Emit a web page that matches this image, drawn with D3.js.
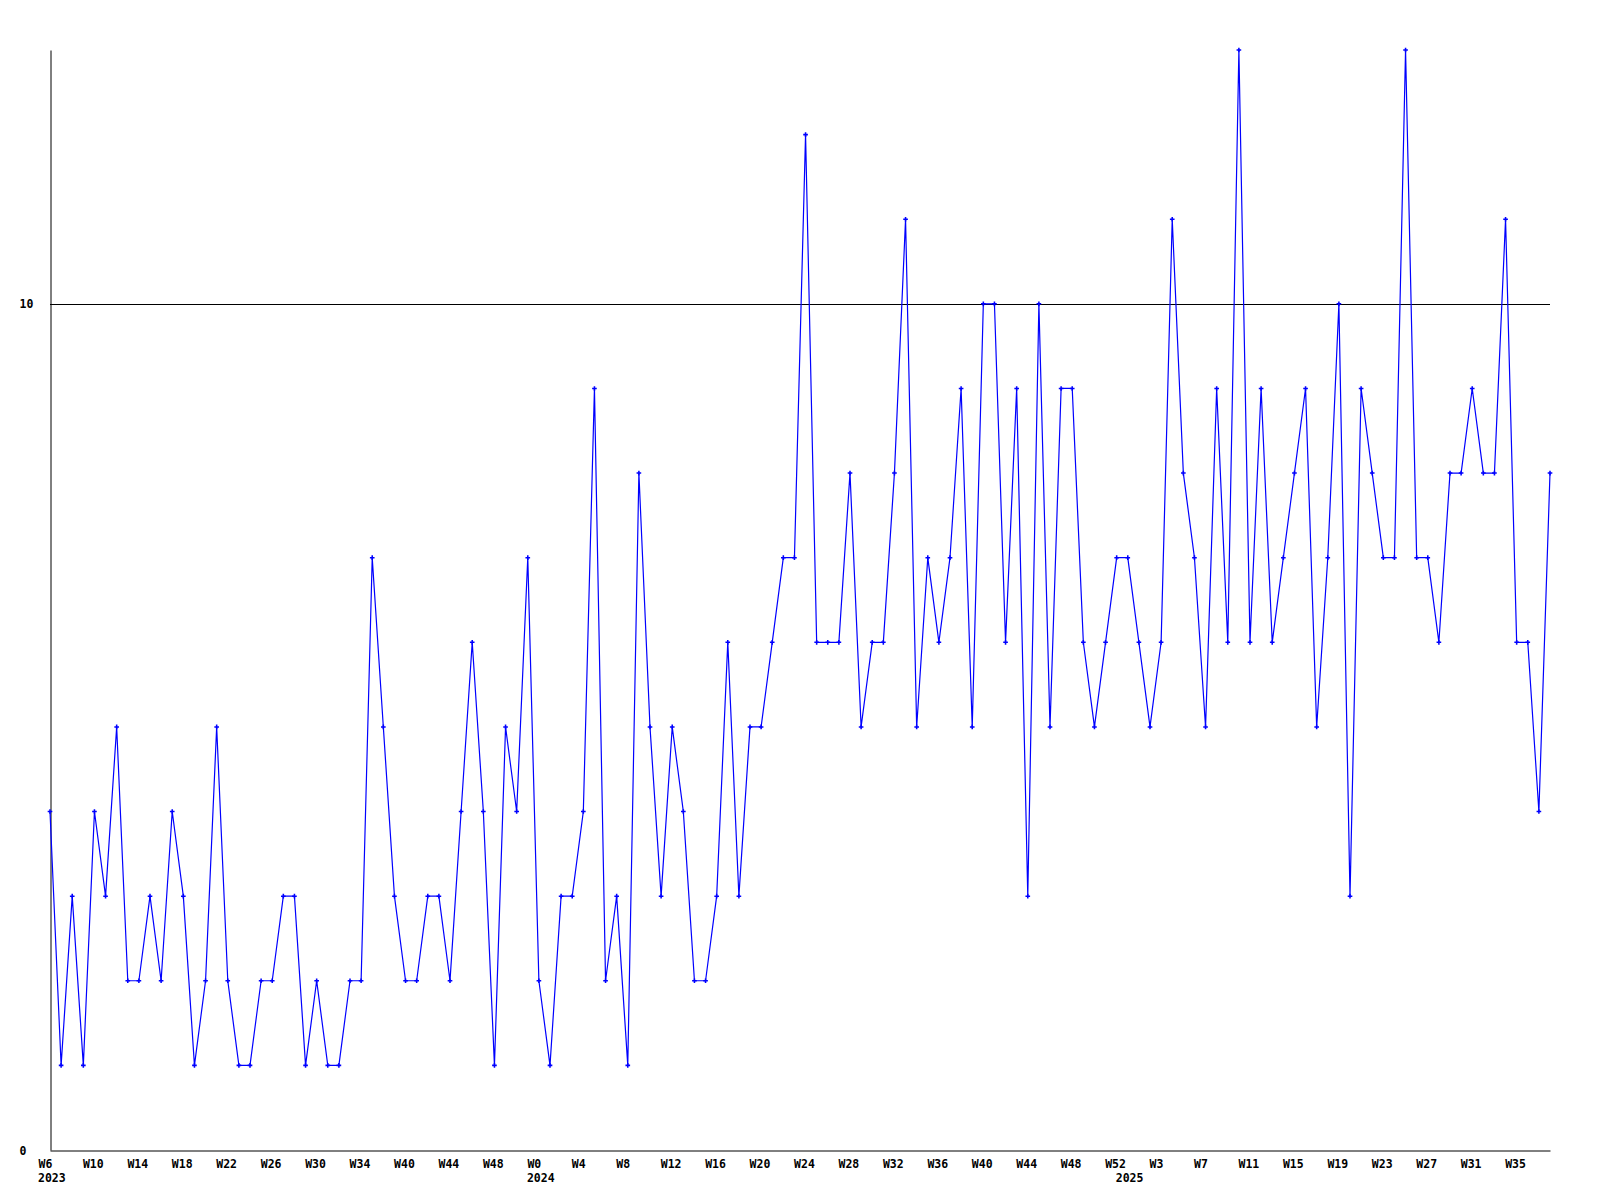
<!DOCTYPE html>
<html>
<head>
<meta charset="utf-8">
<script src="https://cdn.jsdelivr.net/npm/d3@7"></script>
<style>
  body { margin: 0; background: #fff; }
  text { font-family: "DejaVu Sans Mono", "Liberation Mono", monospace; font-weight: bold; font-size: 11.5px; fill: #000; }
</style>
</head>
<body>
<svg id="chart" width="1600" height="1200"></svg>
<script>
// weekly counts, one per week starting 2023 W6
const values = [
  4, 1, 3, 1, 4, 3, 5, 2, 2, 3, 2, 4, 3, 1, 2, 5, 2, 1, 1, 2,
  2, 3, 3, 1, 2, 1, 1, 2, 2, 7, 5, 3, 2, 2, 3, 3, 2, 4, 6, 4,
  1, 5, 4, 7, 2, 1, 3, 3, 4, 9, 2, 3, 1, 8, 5, 3, 5, 4, 2, 2,
  3, 6, 3, 5, 5, 6, 7, 7, 12, 6, 6, 6, 8, 5, 6, 6, 8, 11, 5, 7,
  6, 7, 9, 5, 10, 10, 6, 9, 3, 10, 5, 9, 9, 6, 5, 6, 7, 7, 6, 5,
  6, 11, 8, 7, 5, 9, 6, 13, 6, 9, 6, 7, 8, 9, 5, 7, 10, 3, 9, 8,
  7, 7, 13, 7, 7, 6, 8, 8, 9, 8, 8, 11, 6, 6, 4, 8
];

// one label every 4th week
const weekLabels = [
  "W6", "W10", "W14", "W18", "W22", "W26", "W30", "W34", "W40", "W44", "W48",
  "W0", "W4", "W8", "W12", "W16", "W20", "W24", "W28", "W32", "W36", "W40", "W44", "W48", "W52",
  "W3", "W7", "W11", "W15", "W19", "W23", "W27", "W31", "W35"
];
const yearLabels = ["2023", "2024", "2025"];
const yearStart = [0, 44, 97];   // index of first week of each year
const yTicks = [0, 10];

const margin = {top: 50, right: 50, bottom: 50, left: 50};
const W = 1600, H = 1200;

var svg = d3.select('#chart');
svg.append('rect').attr('width', W).attr('height', H).attr('fill', '#fff');

var x = d3.scaleLinear().domain([0, values.length - 1]).range([margin.left, W - margin.right]);
var y = d3.scaleLinear().domain([0, 13]).range([H - margin.bottom, margin.top]);

// horizontal rule at 10
svg.append('g').selectAll('line')
  .data(yTicks.filter(d => d > 0)).enter()
  .append('line')
  .attr('x1', x.range()[0]).attr('x2', x.range()[1])
  .attr('y1', d => Math.round(y(d)) + 0.5).attr('y2', d => Math.round(y(d)) + 0.5)
  .attr('stroke', '#000').attr('stroke-width', 1);

// y axis
var yAxis = svg.append('g')
  .attr('transform', 'translate(' + (margin.left + 0.5) + ',0)')
  .call(d3.axisLeft(y).tickValues(yTicks).tickSize(0).tickSizeOuter(0).tickFormat(d3.format('d')));
yAxis.select('.domain').attr('stroke', '#000');
yAxis.selectAll('text')
  .attr('x', -31).attr('text-anchor', 'start').attr('dy', '0.35em');

// x axis
var tickIdx = weekLabels.map((d, i) => i * 4);
var xAxis = svg.append('g')
  .attr('transform', 'translate(0,' + (Math.round(y(0)) + 0.5) + ')')
  .call(d3.axisBottom(x).tickValues(tickIdx).tickSize(0).tickSizeOuter(0)
    .tickFormat((d, i) => weekLabels[i]));
xAxis.select('.domain').attr('stroke', '#000');
xAxis.selectAll('text')
  .attr('text-anchor', 'start').attr('x', -12).attr('y', 17).attr('dy', 0);

svg.append('g').selectAll('text')
  .data(yearLabels).enter()
  .append('text')
  .attr('x', (d, i) => x(yearStart[i]) - 12)
  .attr('y', Math.round(y(0)) + 32)
  .text(d => d);

// series line
var line = d3.line().x((d, i) => x(i)).y(d => y(d));
svg.append('path')
  .datum(values)
  .attr('fill', 'none')
  .attr('stroke', '#0000ff')
  .attr('stroke-width', 1.2)
  .attr('d', line);

// point markers
svg.append('g').selectAll('path')
  .data(values).enter()
  .append('path')
  .attr('transform', (d, i) => 'translate(' + x(i) + ',' + y(d) + ')')
  .attr('d', d3.symbol(d3.symbolCross, 12))
  .attr('fill', '#0000ff');
</script>
</body>
</html>
